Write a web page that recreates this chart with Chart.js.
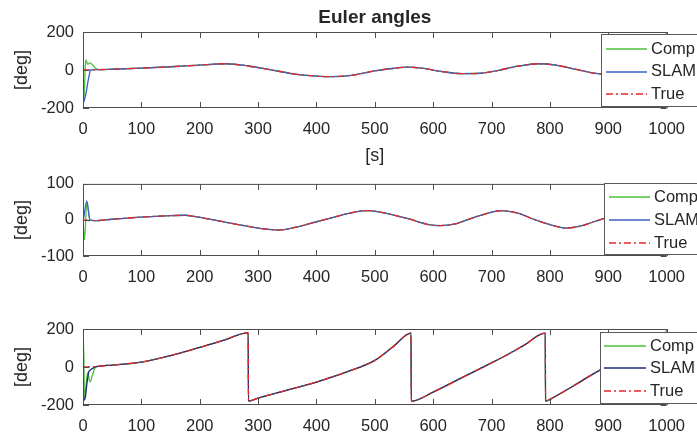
<!DOCTYPE html>
<html>
<head>
<meta charset="utf-8">
<script src="https://cdn.jsdelivr.net/npm/chart.js@4/dist/chart.umd.min.js"></script>
<style>
  html, body { margin: 0; padding: 0; background: #fff; }
  #figure { position: relative; width: 697px; height: 439px; overflow: hidden; }
  #figure canvas { position: absolute; left: 0; }
</style>
</head>
<body>
<div id="figure">
  <canvas id="rollChart" width="697" height="167" style="top:0"></canvas>
  <canvas id="pitchChart" width="697" height="135" style="top:165px"></canvas>
  <canvas id="yawChart" width="697" height="139" style="top:300px"></canvas>
</div>
<script>
const seriesLabels = ['Comp', 'SLAM', 'True'];
const xTicks = [0, 100, 200, 300, 400, 500, 600, 700, 800, 900, 1000];

// roll: settled trajectory + start-up transients of the two estimators
const rollT = [0, 25, 50, 100, 150, 200, 245, 283, 320, 360, 400, 425, 460, 500, 530, 555, 580, 610, 650, 680, 710, 745, 780, 810, 845, 875, 910, 950, 1000];
const rollTrue = [0, 2, 4, 10, 17, 26, 33, 21, 2, -20, -32, -35, -28, -5, 8, 15, 10, -6, -19, -17, -3, 20, 33, 26, 3, -16, -24, -15, 8];
const rollSlamStartT = [0, 1, 3, 5, 8, 10, 13, 25];
const rollSlamStartV = [170, -170, -150, -125, -70, -38, 0, 2];
const rollCompStartT = [0, 1.5, 4, 5, 8, 12, 17, 22, 28];
const rollCompStartV = [0, -150, 20, 55, 30, 38, 25, 8, 2];

// pitch
const pitchT = [0, 20, 50, 100, 150, 175, 190, 230, 283, 310, 334, 365, 400, 440, 465, 489, 520, 560, 590, 612, 640, 663, 690, 717, 745, 775, 800, 827, 855, 875, 910, 945, 975, 1000];
const pitchTrue = [0, -2, 2, 8, 12, 13, 10, -2, -18, -25, -28, -20, -5, 12, 22, 26, 18, 2, -12, -15.5, -10, 3, 17, 26, 19, 0, -13, -22.5, -16, -5, 12, 22, 18, 6];
const pitchSlamStartT = [0, 1, 6.5, 12];
const pitchSlamStartV = [0, 5, 53, 0];
const pitchCompStartT = [0, 2.5, 6.5, 12];
const pitchCompStartV = [0, -55, 48, 0];

// yaw (wraps at +-180)
const yawT = [0, 25, 50, 100, 150, 200, 240, 283, 283.5, 300, 350, 400, 452, 500, 531, 562, 562.5, 600, 650, 700, 730, 756, 792, 792.5, 800, 840, 875, 920, 960, 1000];
const yawTrue = [0, 3, 10, 26, 60, 103, 140, 180, -180, -164, -122, -79, -26, 35, 106, 178, -180, -132, -55, 22, 70, 115, 178, -180, -170, -100, -35, 40, 100, 150];
const yawSlamStartT = [0, 1, 4, 7, 10, 13, 18, 25];
const yawSlamStartV = [165, -175, -160, -80, -25, -15, -5, 3];
const yawCompStartT = [0, 1, 2.5, 5, 8, 12, 16, 21, 25];
const yawCompStartV = [0, 132, -165, -100, -30, -79, -45, -2, 3];

const textColor = '#262626';
const axisColor = '#4d4d4d';
const compColor = '#4dbf3a';
const trueColor = '#e8262c';
const trueDash = [7, 3, 2, 3];
const lineWidth = 1.3;
const fontFamily = '"Liberation Sans", Arial, Helvetica, sans-serif';
const fontSize = 16.5;
const labelSize = 18;

Chart.defaults.font.family = fontFamily;
Chart.defaults.font.size = fontSize;
Chart.defaults.color = textColor;

function truePoints(t, v) {
  return t.map((tt, i) => ({ x: tt, y: v[i] }));
}

function estimatePoints(startT, startV, t, v) {
  const last = startT[startT.length - 1];
  const pts = startT.map((tt, i) => ({ x: tt, y: startV[i] }));
  t.forEach((tt, i) => {
    if (tt > last) pts.push({ x: tt, y: v[i] });
  });
  return pts;
}

const axesFrame = {
  id: 'axesFrame',
  afterDatasetsDraw(chart, args, opts) {
    const { ctx, chartArea: a, scales: { x, y } } = chart;
    const tick = 6;
    ctx.save();
    ctx.strokeStyle = axisColor;
    ctx.lineWidth = 1;
    ctx.setLineDash([]);
    ctx.beginPath();
    x.ticks.forEach(t => {
      const px = Math.round(x.getPixelForValue(t.value)) + 0.5;
      ctx.moveTo(px, a.top);
      ctx.lineTo(px, a.top + tick);
      ctx.moveTo(px, a.bottom);
      ctx.lineTo(px, a.bottom - tick);
    });
    y.ticks.forEach(t => {
      const py = Math.round(y.getPixelForValue(t.value)) + 0.5;
      ctx.moveTo(a.left, py);
      ctx.lineTo(a.left + tick, py);
      ctx.moveTo(a.right, py);
      ctx.lineTo(a.right - tick, py);
    });
    ctx.stroke();
    ctx.strokeRect(a.left + 0.5, a.top + 0.5, a.width - 1, a.height - 1);

    // legend box, cut by the figure's right edge
    const lg = opts.legend;
    const colors = [compColor, opts.slamColor, trueColor];
    const dashes = [[], [], trueDash];
    ctx.fillStyle = '#fff';
    ctx.fillRect(lg.left, lg.top, 140, lg.bottom - lg.top);
    ctx.strokeStyle = '#5a5a5a';
    ctx.strokeRect(lg.left + 0.5, lg.top + 0.5, 140, lg.bottom - lg.top);
    ctx.font = `${fontSize}px ${fontFamily}`;
    ctx.textBaseline = 'middle';
    ctx.textAlign = 'left';
    seriesLabels.forEach((label, i) => {
      const ly = Math.round(lg.rows[i]);
      ctx.save();
      ctx.strokeStyle = colors[i];
      ctx.lineWidth = lineWidth;
      ctx.setLineDash(dashes[i]);
      ctx.beginPath();
      ctx.moveTo(lg.x0, ly);
      ctx.lineTo(lg.x1, ly);
      ctx.stroke();
      ctx.restore();
      ctx.fillStyle = textColor;
      ctx.fillText(label, lg.tx, lg.rows[i]);
    });
    ctx.restore();
  }
};

function makeChart(id, cfg) {
  const datasets = [
    {
      label: 'True',
      data: truePoints(cfg.t, cfg.trueV),
      borderColor: trueColor,
      borderDash: trueDash,
      order: 0
    },
    {
      label: 'SLAM',
      data: estimatePoints(cfg.slamT, cfg.slamV, cfg.t, cfg.trueV),
      borderColor: cfg.slamColor,
      order: 1
    },
    {
      label: 'Comp',
      data: estimatePoints(cfg.compT, cfg.compV, cfg.t, cfg.trueV),
      borderColor: compColor,
      order: 2
    }
  ].map(d => Object.assign(d, {
    borderWidth: lineWidth,
    pointRadius: 0,
    fill: false,
    cubicInterpolationMode: 'monotone'
  }));

  return new Chart(document.getElementById(id), {
    type: 'line',
    data: { datasets },
    options: {
      responsive: false,
      animation: false,
      events: [],
      layout: { padding: { left: 0, right: 23, top: cfg.padTop, bottom: 0 } },
      plugins: {
        legend: { display: false },
        tooltip: { enabled: false },
        title: {
          display: !!cfg.title,
          text: cfg.title,
          fullSize: false,
          color: textColor,
          font: { size: 19, weight: 'bold' },
          padding: { top: 6, bottom: 3.2 }
        },
        axesFrame: { legend: cfg.legend, slamColor: cfg.slamColor }
      },
      scales: {
        x: {
          type: 'linear',
          min: 0,
          max: 1000,
          afterFit: s => { s.height = cfg.xAxisHeight; },
          afterBuildTicks: s => { s.ticks = xTicks.map(v => ({ value: v })); },
          grid: { display: false, drawTicks: false },
          border: { display: false },
          ticks: {
            padding: 12,
            maxRotation: 0,
            autoSkip: false,
            color: textColor,
            callback: v => String(v)
          },
          title: {
            display: !!cfg.xTitle,
            text: cfg.xTitle,
            color: textColor,
            font: { size: labelSize },
            padding: { top: 0, bottom: 0 }
          }
        },
        y: {
          min: -cfg.yLimit,
          max: cfg.yLimit,
          afterFit: s => { s.width = 83; },
          afterBuildTicks: s => { s.ticks = [-cfg.yLimit, 0, cfg.yLimit].map(v => ({ value: v })); },
          grid: { display: false, drawTicks: false },
          border: { display: false },
          ticks: {
            padding: 9,
            color: textColor,
            callback: v => String(v)
          },
          title: {
            display: true,
            text: '[deg]',
            color: textColor,
            font: { size: labelSize },
            padding: { top: 11, bottom: 0 }
          }
        }
      }
    },
    plugins: [axesFrame]
  });
}

makeChart('rollChart', {
  t: rollT, trueV: rollTrue,
  slamT: rollSlamStartT, slamV: rollSlamStartV,
  compT: rollCompStartT, compV: rollCompStartV,
  slamColor: '#3a5fc8',
  yLimit: 200,
  title: 'Euler angles',
  xTitle: '[s]',
  padTop: 0,
  xAxisHeight: 59,
  legend: { left: 601, top: 34, bottom: 106, rows: [49, 71.7, 94], x0: 606, x1: 647, tx: 651 }
});

makeChart('pitchChart', {
  t: pitchT, trueV: pitchTrue,
  slamT: pitchSlamStartT, slamV: pitchSlamStartV,
  compT: pitchCompStartT, compV: pitchCompStartV,
  slamColor: '#3a5fc8',
  yLimit: 100,
  title: '',
  xTitle: '',
  padTop: 16,
  xAxisHeight: 44,
  legend: { left: 604, top: 18, bottom: 89, rows: [32, 55, 78], x0: 609, x1: 650, tx: 654 }
});

makeChart('yawChart', {
  t: yawT, trueV: yawTrue,
  slamT: yawSlamStartT, slamV: yawSlamStartV,
  compT: yawCompStartT, compV: yawCompStartV,
  slamColor: '#1c2d7a',
  yLimit: 200,
  title: '',
  xTitle: '',
  padTop: 29,
  xAxisHeight: 34,
  legend: { left: 600, top: 32, bottom: 103, rows: [46, 68, 91], x0: 604, x1: 646, tx: 650 }
});
</script>
</body>
</html>
